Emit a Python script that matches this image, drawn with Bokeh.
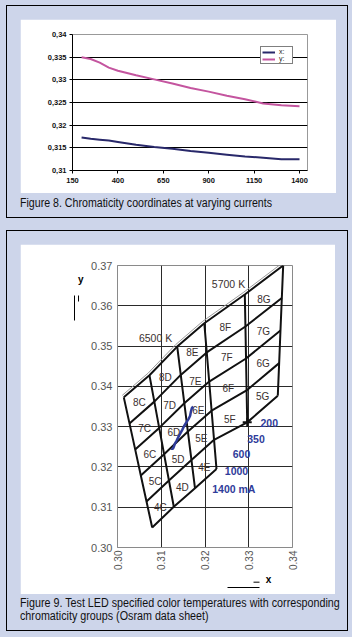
import math
from bokeh.plotting import figure
from bokeh.models import (Range1d, FixedTicker, Div, Legend, LegendItem, Label, LinearAxis,
                          Arrow, NormalHead, CustomJSTickFormatter, NumeralTickFormatter)
from bokeh.layouts import column
from bokeh.embed import file_html
from bokeh.resources import INLINE
from bokeh.core.properties import value

# ---------------- Figure 8 data ----------------
currents = [200, 250, 300, 350, 400, 500, 600, 700, 800, 900, 1000, 1100, 1200, 1300, 1400]
x_coord = [0.3173, 0.3170, 0.3168, 0.3166, 0.3163, 0.3157, 0.3152, 0.3148, 0.3143, 0.3139,
           0.3135, 0.3131, 0.3128, 0.3125, 0.3125]
y_coord = [0.3350, 0.3346, 0.3338, 0.3327, 0.3320, 0.3310, 0.3301, 0.3292, 0.3282, 0.3274,
           0.3265, 0.3257, 0.3248, 0.3244, 0.3242]
fig8_xticks = [150, 400, 650, 900, 1150, 1400]
fig8_yticks = [0.31, 0.315, 0.32, 0.325, 0.33, 0.335, 0.34]
series_names = ["x:", "y:"]
caption8 = "Figure 8. Chromaticity coordinates at varying currents"

# ---------------- Figure 9 data ----------------
# chromaticity group block C/D/E: 4 boundary lines (left to right), 6 row points each (top to bottom)
cde_x = [[0.30144, 0.30274, 0.30404, 0.30533, 0.30663, 0.30793],
         [0.30731, 0.30842, 0.30953, 0.31065, 0.31176, 0.31287],
         [0.31365, 0.31446, 0.31527, 0.31609, 0.31690, 0.31771],
         [0.31984, 0.32040, 0.32096, 0.32151, 0.32207, 0.32263]]
cde_y = [[0.33727, 0.33081, 0.32435, 0.31789, 0.31143, 0.30497],
         [0.34274, 0.33621, 0.32969, 0.32316, 0.31664, 0.31011],
         [0.34987, 0.34284, 0.33581, 0.32877, 0.32174, 0.31471],
         [0.35566, 0.34842, 0.34119, 0.33395, 0.32672, 0.31948]]
# block F/G: 3 boundary lines, 5 row points each
fg_x = [[0.31984, 0.32040, 0.32096, 0.32151, 0.32207],
        [0.32910, 0.32924, 0.32938, 0.32951, 0.32965],
        [0.33787, 0.33756, 0.33725, 0.33695, 0.33664]]
fg_y = [[0.35566, 0.34842, 0.34119, 0.33395, 0.32672],
        [0.36279, 0.35486, 0.34692, 0.33899, 0.33106],
        [0.37000, 0.36192, 0.35385, 0.34577, 0.33769]]
cde_cols = ["C", "D", "E"]
fg_cols = ["F", "G"]
cde_rows = ["8", "7", "6", "5", "4"]
fg_rows = ["8", "7", "6", "5"]
cct_labels = ["6500 K", "5700 K"]
current_labels = ["200", "350", "600", "1000", "1400 mA"]
fig9_xticks = [0.30, 0.31, 0.32, 0.33, 0.34]
fig9_yticks = [0.30, 0.31, 0.32, 0.33, 0.34, 0.35, 0.36, 0.37]
caption9 = "Figure 9. Test LED specified color temperatures with corresponding<br>chromaticity groups (Osram data sheet)"

# annotation positions (layout)
cct_pos = [(0.30869, 0.35211), (0.32537, 0.36545)]
cur_pos_x = [0.33269, 0.32965, 0.32635, 0.32453, 0.32165]
cur_pos_y = [0.33091, 0.32693, 0.32321, 0.31906, 0.31451]
y_arrow = (0.29109, 0.35635, 0.36255)      # x, y_start, y_end
x_arrow = (0.32507, 0.33246, 0.29139)      # x_start, x_end, y
y_name_pos = 0.36645
x_name_pos = 0.33451

BG = "#cdd5ea"
FONT = "Liberation Sans"
NAVY = "#28286a"
PINK = "#c4559f"
BLUE = "#2f3c9a"

# ================= Figure 8 =================
p8 = figure(width=316, height=174, x_range=Range1d(150, 1444), y_range=Range1d(0.31, 0.34),
            output_backend="svg", toolbar_location=None,
            min_border_left=52, min_border_right=29, min_border_top=15, min_border_bottom=23,
            background_fill_color="white", border_fill_color="white")
p8.outline_line_color = "#999999"
p8.xgrid.grid_line_color = None
p8.ygrid.grid_line_color = "black"
p8.ygrid.grid_line_width = 1
p8.xaxis.ticker = FixedTicker(ticks=fig8_xticks)
p8.yaxis.ticker = FixedTicker(ticks=fig8_yticks)
p8.ygrid.ticker = FixedTicker(ticks=fig8_yticks)
p8.yaxis.formatter = CustomJSTickFormatter(
    code="return parseFloat(tick.toFixed(3)).toString().replace('.', ',');")
for ax in (p8.xaxis, p8.yaxis):
    ax.axis_line_color = "black"
    ax.major_tick_line_color = "black"
    ax.major_tick_out = 3
    ax.major_tick_in = 0
    ax.minor_tick_line_color = None
    ax.major_label_text_font = FONT
    ax.major_label_text_font_size = "7.5px"
    ax.major_label_text_font_style = "bold"
    ax.major_label_text_color = "#111111"
p8.yaxis.major_label_standoff = 3
p8.xaxis.major_label_standoff = 4

rx = p8.line(currents, x_coord, line_color=NAVY, line_width=2)
ry = p8.line(currents, y_coord, line_color=PINK, line_width=2)
legend = Legend(items=[LegendItem(label=series_names[0], renderers=[rx]),
                       LegendItem(label=series_names[1], renderers=[ry])],
                location=(188, 106), border_line_color="black", border_line_width=1,
                background_fill_color="white", background_fill_alpha=1,
                label_text_font=FONT, label_text_font_size="7px", label_text_color="#222222",
                glyph_width=13, glyph_height=6, label_standoff=4, padding=1, spacing=0,
                margin=0, label_height=7, label_width=12)
p8.add_layout(legend)

# ================= Figure 9 =================
p9 = figure(width=315, height=350, x_range=Range1d(0.30, 0.34), y_range=Range1d(0.30, 0.37),
            output_backend="svg", toolbar_location=None,
            min_border_left=97, min_border_right=43, min_border_top=21, min_border_bottom=47,
            background_fill_color="white", border_fill_color="white")
p9.outline_line_color = "#8a8a8a"
p9.xaxis.ticker = FixedTicker(ticks=fig9_xticks)
p9.yaxis.ticker = FixedTicker(ticks=fig9_yticks)
p9.xgrid.ticker = FixedTicker(ticks=fig9_xticks)
p9.ygrid.ticker = FixedTicker(ticks=fig9_yticks)
p9.grid.grid_line_color = "#2a2a2a"
p9.grid.grid_line_width = 1
for ax in (p9.xaxis, p9.yaxis):
    ax.formatter = NumeralTickFormatter(format="0.00")
    ax.axis_line_color = "#8a8a8a"
    ax.major_tick_line_color = None
    ax.minor_tick_line_color = None
    ax.major_tick_out = 0
    ax.major_label_text_font = FONT
    ax.major_label_text_color = "#555555"
p9.yaxis.major_label_text_font_size = "11px"
p9.xaxis.major_label_text_font_size = "10px"
p9.yaxis.major_label_standoff = 5
p9.xaxis.major_label_standoff = 3
p9.xaxis.major_label_orientation = math.pi / 2

# axis names "y" and "x" as outer axes (drawn outside the frame)
def name_axis(tick, text, standoff):
    return LinearAxis(ticker=FixedTicker(ticks=[tick]),
                      formatter=CustomJSTickFormatter(code="return '%s';" % text),
                      axis_line_color=None, major_tick_line_color=None, minor_tick_line_color=None,
                      major_tick_out=0, major_tick_in=0, major_label_standoff=standoff,
                      major_label_text_font=FONT, major_label_text_font_size="10px",
                      major_label_text_font_style="bold", major_label_text_color="black")

# arrow shafts as bounded outer axis lines
def shaft_axis(lo, hi):
    return LinearAxis(ticker=FixedTicker(ticks=[]), bounds=(lo, hi),
                      axis_line_color="black", axis_line_width=1,
                      major_tick_line_color=None, minor_tick_line_color=None,
                      major_tick_out=0, major_tick_in=0, major_label_standoff=0)

p9.add_layout(name_axis(y_name_pos, "y", 5), "left")
p9.add_layout(shaft_axis(y_arrow[1], y_arrow[2]), "left")
p9.add_layout(name_axis(x_name_pos, "x", 1), "below")
p9.add_layout(shaft_axis(x_arrow[0], x_arrow[1]), "below")

# shadow (thin double line) along the top CCT boundaries
dx_s, dy_s = -0.00035, 0.0005
top_cde_x = [col[0] + dx_s for col in cde_x]
top_cde_y = [col[0] + dy_s for col in cde_y]
top_fg_x = [col[0] + dx_s for col in fg_x]
top_fg_y = [col[0] + dy_s for col in fg_y]
p9.line(top_cde_x, top_cde_y, line_color="#9a9a9a", line_width=1)
p9.line(top_fg_x, top_fg_y, line_color="#9a9a9a", line_width=1)

# bin grid lines
lines_x, lines_y = [], []
for j in range(len(cde_x)):
    lines_x.append(cde_x[j]); lines_y.append(cde_y[j])
for k in range(len(cde_x[0])):
    lines_x.append([c[k] for c in cde_x]); lines_y.append([c[k] for c in cde_y])
for j in range(1, len(fg_x)):
    lines_x.append(fg_x[j]); lines_y.append(fg_y[j])
for k in range(len(fg_x[0])):
    lines_x.append([c[k] for c in fg_x]); lines_y.append([c[k] for c in fg_y])
p9.multi_line(lines_x, lines_y, line_color="#111111", line_width=2)

# bin labels at cell centres
lab_x, lab_y, lab_t = [], [], []
for blk_x, blk_y, cols, rows in ((cde_x, cde_y, cde_cols, cde_rows), (fg_x, fg_y, fg_cols, fg_rows)):
    for j, cname in enumerate(cols):
        for r, rname in enumerate(rows):
            cx = (blk_x[j][r] + blk_x[j][r + 1] + blk_x[j + 1][r] + blk_x[j + 1][r + 1]) / 4
            cy = (blk_y[j][r] + blk_y[j][r + 1] + blk_y[j + 1][r] + blk_y[j + 1][r + 1]) / 4
            lab_x.append(cx); lab_y.append(cy - 0.0008); lab_t.append(rname + cname)
p9.text(lab_x, lab_y, text=lab_t, text_align="center", text_baseline="middle",
        text_font=value(FONT), text_font_size="10px", text_color="#3a3030")

# CCT labels
for (cx, cy), t in zip(cct_pos, cct_labels):
    p9.add_layout(Label(x=cx, y=cy, text=t, text_align="center", text_baseline="middle",
                        text_font=FONT, text_font_size="10.5px", text_color="#3a3030"))

# measured chromaticity path (Figure 8 data)
p9.line(x_coord, y_coord, line_color=BLUE, line_width=2.5)
p9.scatter([fg_x[1][-1]], [fg_y[1][-1]], marker="cross", size=9, line_color="#111111", line_width=2)
p9.text(cur_pos_x, cur_pos_y, text=current_labels, text_align="left", text_baseline="middle",
        text_font=value(FONT), text_font_size="10.5px", text_font_style="bold", text_color=BLUE)

# arrow heads
p9.add_layout(Arrow(x_start=y_arrow[0], y_start=y_arrow[1], x_end=y_arrow[0], y_end=y_arrow[2],
                    line_color="black", line_width=1,
                    end=NormalHead(size=6, fill_color="black", line_color="black")))
p9.add_layout(Arrow(x_start=x_arrow[0], y_start=x_arrow[2], x_end=x_arrow[1], y_end=x_arrow[2],
                    line_color="black", line_width=1,
                    end=NormalHead(size=6, fill_color="black", line_color="black")))

# ================= layout =================
cap_style = {"font-family": "'Liberation Sans', sans-serif", "font-size": "12px",
             "color": "#111111", "line-height": "12.5px", "white-space": "nowrap",
             "transform-origin": "0 0"}
cap8 = Div(text=caption8, width=316, height=24, margin=0,
           styles=dict(cap_style, **{"padding-top": "4px", "transform": "scaleX(0.885)"}))
cap9 = Div(text=caption9, width=316, height=36, margin=0,
           styles=dict(cap_style, **{"padding-top": "3px", "transform": "scaleX(0.895)"}))

box_style = {"border": "1px solid #000000", "padding": "13px 11px 0px 13px", "background-color": BG}
box8 = column(p8, cap8, spacing=0, styles=box_style)
box9 = column(p9, cap9, spacing=0, styles=box_style)
root = column(box8, box9, spacing=12,
              styles={"background-color": BG, "padding": "5px 4px 6px 6px"})

open("out.html", "w").write(file_html(root, INLINE))
